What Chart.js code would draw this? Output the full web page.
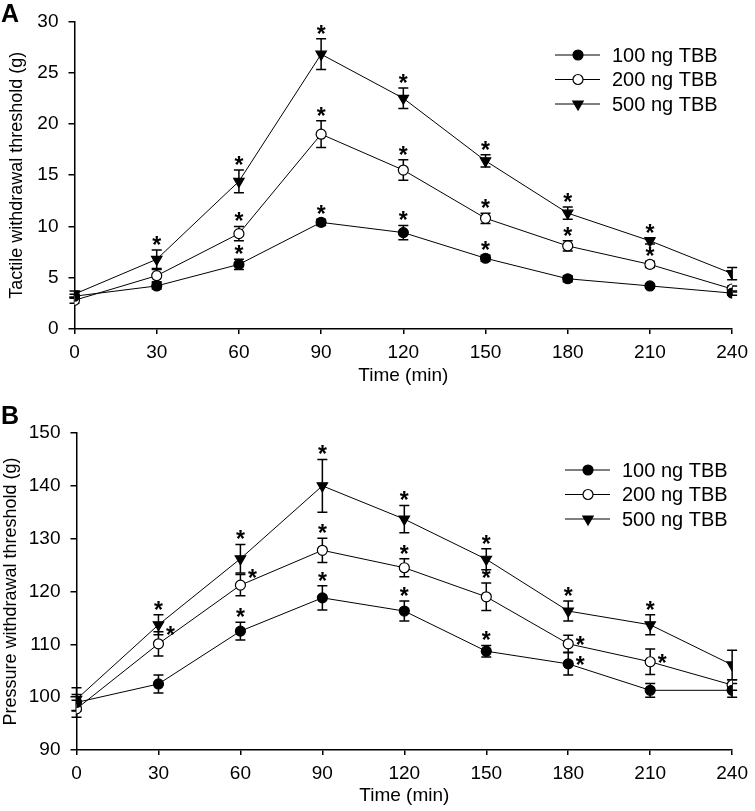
<!DOCTYPE html>
<html>
<head>
<meta charset="utf-8">
<script src="https://cdn.jsdelivr.net/npm/chart.js@4/dist/chart.umd.min.js"></script>
<style>
  html, body { margin: 0; padding: 0; background: #fff; }
  .panel { position: absolute; left: 0; width: 755px; }
  #panel-a { top: 0; height: 390px; }
  #panel-b { top: 390px; height: 421px; }
</style>
</head>
<body>
<div class="panel" id="panel-a"><canvas id="chart-a" width="755" height="390"></canvas></div>
<div class="panel" id="panel-b"><canvas id="chart-b" width="755" height="421"></canvas></div>
<script>
// data
const times = [0, 30, 60, 90, 120, 150, 180, 210, 240];
const seriesNames = ["100 ng TBB", "200 ng TBB", "500 ng TBB"];

// A: tactile
const tactile100 = [3.2, 4.2, 6.3, 10.4, 9.4, 6.9, 4.9, 4.2, 3.5];
const tactile100Err = [0.2, 0.3, 0.5, 0.3, 0.7, 0.3, 0.3, 0.2, 0.2];
const tactile200 = [2.8, 5.2, 9.3, 19.0, 15.5, 10.8, 8.1, 6.3, 3.9];
const tactile200Err = [0.3, 0.6, 0.7, 1.3, 1.0, 0.5, 0.5, 0.3, 0.3];
const tactile500 = [3.4, 6.8, 14.4, 26.8, 22.5, 16.4, 11.3, 8.6, 5.4];
const tactile500Err = [0.3, 0.9, 1.1, 1.5, 1.0, 0.6, 0.6, 0.3, 0.6];
// significance marks: "a" = above error bar, "r" = right of point, "R" = right of upper cap
const tactile100Sig = ["", "", "a", "a", "a", "a", "", "", ""];
const tactile200Sig = ["", "", "a", "a", "a", "a", "a", "a", ""];
const tactile500Sig = ["", "a", "a", "a", "a", "a", "a", "a", ""];

// B: pressure
const pressure100 = [99.0, 102.5, 112.5, 118.8, 116.3, 108.7, 106.3, 101.3, 101.3];
const pressure100Err = [1.5, 1.7, 1.7, 2.3, 1.9, 1.1, 2.1, 1.3, 1.3];
const pressure200 = [97.8, 110.1, 121.2, 127.8, 124.5, 119.0, 110.1, 106.7, 102.3];
const pressure200Err = [1.6, 2.3, 2.0, 2.3, 1.7, 2.6, 1.6, 2.4, 1.0];
const pressure500 = [99.6, 113.7, 126.2, 140.0, 133.7, 126.1, 116.3, 113.7, 106.1];
const pressure500Err = [2.2, 1.9, 2.7, 5.0, 2.6, 2.0, 1.9, 1.9, 2.8];
const pressure100Sig = ["", "", "a", "a", "a", "a", "r", "", ""];
const pressure200Sig = ["", "R", "R", "a", "a", "a", "r", "r", ""];
const pressure500Sig = ["", "a", "a", "a", "a", "a", "a", "a", ""];

const FONT = "'Liberation Sans', Arial, Helvetica, sans-serif";
Chart.defaults.font.family = FONT;
Chart.defaults.font.size = 19;
Chart.defaults.color = "#000";

const styles = [
  { pointStyle: "circle", rotation: 0, radius: 5, fill: "#000" },
  { pointStyle: "circle", rotation: 0, radius: 5, fill: "#fff" },
  { pointStyle: "triangle", rotation: 180, radius: 6, fill: "#000" }
];

function makeDatasets(vals, errs, sigs) {
  return vals.map((v, k) => ({
    label: seriesNames[k],
    data: times.map((t, i) => ({ x: t, y: v[i] })),
    errors: errs[k],
    sig: sigs[k],
    borderColor: "#000",
    borderWidth: 1,
    pointStyle: styles[k].pointStyle,
    rotation: styles[k].rotation,
    pointRadius: styles[k].radius,
    pointBackgroundColor: styles[k].fill,
    pointBorderColor: "#000",
    pointBorderWidth: 1.2,
    tension: 0
  }));
}

function marker(ctx, st, x, y) {
  ctx.beginPath();
  if (st.pointStyle === "circle") {
    ctx.arc(x, y, st.radius, 0, Math.PI * 2);
  } else {
    const r = st.radius;
    ctx.moveTo(x, y + r);
    ctx.lineTo(x - r * 0.866, y - r / 2);
    ctx.lineTo(x + r * 0.866, y - r / 2);
    ctx.closePath();
  }
  ctx.fillStyle = st.fill;
  ctx.fill();
  ctx.lineWidth = 1.2;
  ctx.strokeStyle = "#000";
  ctx.stroke();
}

// error bars, asterisks, legend and panel letter
const decorPlugin = {
  id: "decor",
  beforeDatasetsDraw(chart) {
    const ctx = chart.ctx, ys = chart.scales.y;
    ctx.save();
    ctx.strokeStyle = "#000";
    ctx.lineWidth = 1.5;
    chart.data.datasets.forEach((ds, di) => {
      chart.getDatasetMeta(di).data.forEach((pt, i) => {
        const v = ds.data[i].y, e = ds.errors[i];
        const top = ys.getPixelForValue(v + e), bot = ys.getPixelForValue(v - e);
        ctx.beginPath();
        ctx.moveTo(pt.x, top); ctx.lineTo(pt.x, bot);
        ctx.moveTo(pt.x - 5, top); ctx.lineTo(pt.x + 5, top);
        ctx.moveTo(pt.x - 5, bot); ctx.lineTo(pt.x + 5, bot);
        ctx.stroke();
      });
    });
    ctx.restore();
  },
  afterDatasetsDraw(chart, args, opts) {
    const ctx = chart.ctx, ys = chart.scales.y;
    ctx.save();
    ctx.fillStyle = "#000";
    ctx.font = "bold 23px " + FONT;
    ctx.textAlign = "center";
    ctx.textBaseline = "alphabetic";
    chart.data.datasets.forEach((ds, di) => {
      chart.getDatasetMeta(di).data.forEach((pt, i) => {
        const s = ds.sig[i];
        if (!s) return;
        const top = ys.getPixelForValue(ds.data[i].y + ds.errors[i]);
        if (s === "a") ctx.fillText("*", pt.x, top + 3);
        else if (s === "r") ctx.fillText("*", pt.x + 12, pt.y + 9);
        else if (s === "R") ctx.fillText("*", pt.x + 12, top + 11);
      });
    });

    // legend
    ctx.font = "20px " + FONT;
    ctx.textAlign = "left";
    ctx.textBaseline = "middle";
    chart.data.datasets.forEach((ds, k) => {
      const y = opts.legendY + k * 24.5;
      ctx.beginPath();
      ctx.moveTo(opts.legendX, y);
      ctx.lineTo(opts.legendX + 45, y);
      ctx.lineWidth = 1;
      ctx.strokeStyle = "#000";
      ctx.stroke();
      marker(ctx, styles[k], opts.legendX + 23, y);
      ctx.fillStyle = "#000";
      ctx.fillText(ds.label, opts.legendX + 57, y + 1);
    });

    // panel letter
    ctx.font = "bold 25px " + FONT;
    ctx.textAlign = "left";
    ctx.fillText(opts.letter, 1, opts.letterY);
    ctx.restore();
  }
};

function buildChart(elId, cfg) {
  const ctx = document.getElementById(elId).getContext("2d");
  return new Chart(ctx, {
    type: "line",
    data: { datasets: makeDatasets(cfg.vals, cfg.errs, cfg.sigs) },
    plugins: [decorPlugin],
    options: {
      responsive: false,
      animation: false,
      layout: { padding: { top: cfg.top, right: cfg.right, bottom: 0, left: 0 } },
      plugins: {
        legend: { display: false },
        tooltip: { enabled: false },
        decor: { legendX: cfg.legendX, legendY: cfg.legendY, letter: cfg.letter, letterY: cfg.letterY }
      },
      scales: {
        x: {
          type: "linear",
          min: 0, max: 240,
          ticks: { stepSize: 30, padding: 7, font: { size: 19 } },
          grid: { drawOnChartArea: false, drawTicks: true, tickLength: 5, color: "#000", lineWidth: 1.5 },
          border: { display: true, color: "#000", width: 1.5 },
          title: { display: true, text: "Time (min)", font: { size: 19 }, padding: { top: 0, bottom: cfg.xTitlePad } },
          afterFit: (s) => { s.height = cfg.xHeight; }
        },
        y: {
          min: cfg.yMin, max: cfg.yMax,
          ticks: { stepSize: cfg.yStep, padding: 10, font: { size: 19 } },
          grid: { drawOnChartArea: false, drawTicks: true, tickLength: 6, color: "#000", lineWidth: 1.5 },
          border: { display: true, color: "#000", width: 1.5 },
          title: { display: true, text: cfg.yTitle, font: { size: 18 }, padding: { top: cfg.yTitlePad, bottom: 0 } },
          afterFit: (s) => { s.width = cfg.yWidth; }
        }
      }
    }
  });
}

buildChart("chart-a", {
  vals: [tactile100, tactile200, tactile500],
  errs: [tactile100Err, tactile200Err, tactile500Err],
  sigs: [tactile100Sig, tactile200Sig, tactile500Sig],
  yMin: 0, yMax: 30, yStep: 5,
  yTitle: "Tactile withdrawal threshold (g)",
  top: 12.5, right: 19, xHeight: 61, yWidth: 74.5,
  xTitlePad: 3, yTitlePad: 6,
  legendX: 555, legendY: 55, letter: "A", letterY: 15
});

buildChart("chart-b", {
  vals: [pressure100, pressure200, pressure500],
  errs: [pressure100Err, pressure200Err, pressure500Err],
  sigs: [pressure100Sig, pressure200Sig, pressure500Sig],
  yMin: 90, yMax: 150, yStep: 10,
  yTitle: "Pressure withdrawal threshold (g)",
  top: 43, right: 17, xHeight: 61, yWidth: 76.5,
  xTitlePad: 4, yTitlePad: 0,
  legendX: 565, legendY: 80, letter: "B", letterY: 27
});
</script>
</body>
</html>
